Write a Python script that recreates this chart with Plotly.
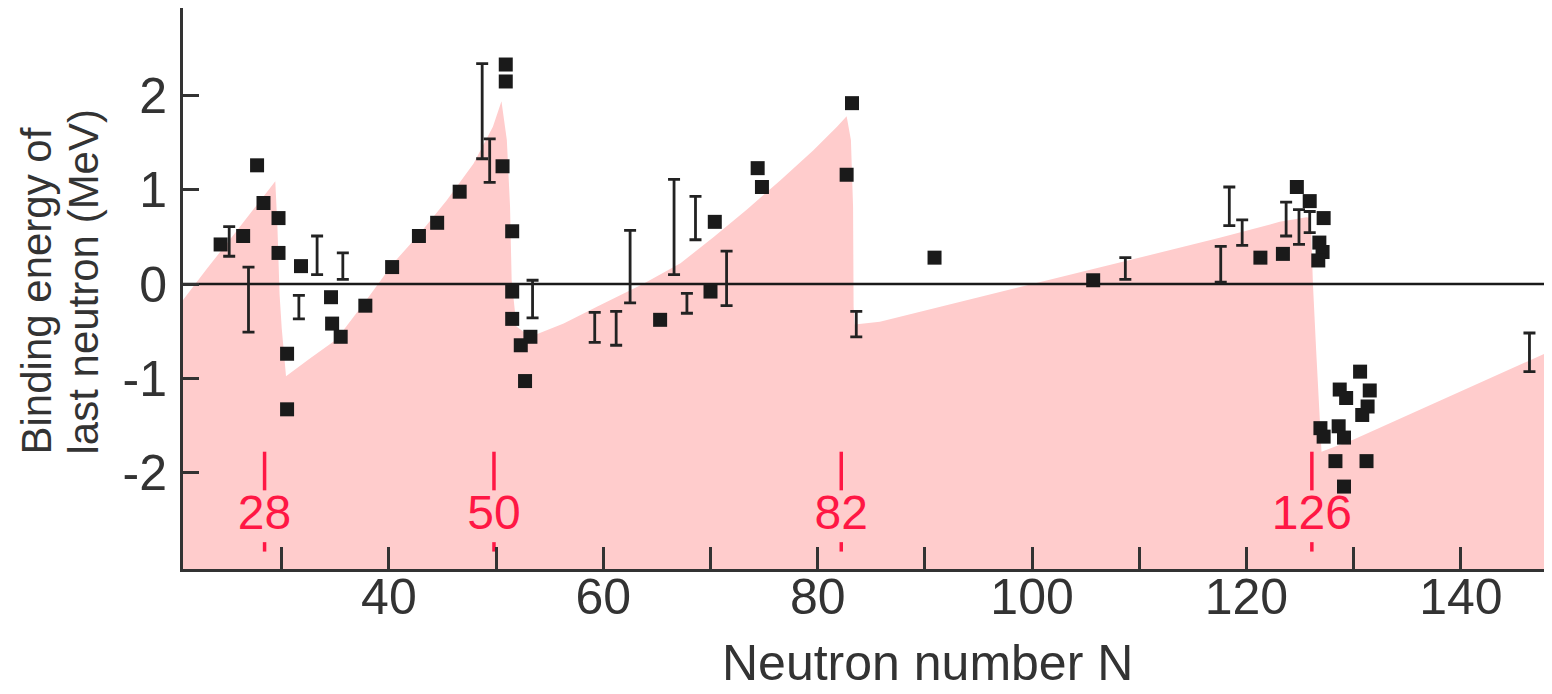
import plotly.graph_objects as go

# ---------------- data ----------------
# shell-model curve (pink area upper boundary)
curve_n = [20.79, 23.0, 25.5, 27.5, 29.0, 29.4, 29.6, 29.8, 30.0, 30.4, 32.5, 35.1, 37.9, 38.9,
           40.4, 42.9, 45.4, 47.9, 49.7, 50.5, 51.0, 51.3, 51.45, 51.9, 53.2, 56.3, 59.4, 63.7,
           67.2, 70.3, 73.4, 76.5, 79.6, 81.8, 82.7, 83.1, 83.3, 83.35, 83.45, 85.8, 100.0,
           117.5, 123.1, 125.6, 126.0, 126.2, 126.5, 126.8, 127.0, 130.0, 147.8]
curve_e = [-0.17, 0.16, 0.52, 0.81, 1.03, 1.09, 0.60, -0.11, -0.47, -0.98, -0.80, -0.59, -0.17, -0.01,
           0.22, 0.54, 0.89, 1.28, 1.67, 1.94, 1.53, 0.82, 0.04, -0.45, -0.56, -0.42, -0.24, 0.0,
           0.22, 0.50, 0.79, 1.10, 1.42, 1.67, 1.78, 1.53, 0.82, -0.24, -0.43, -0.40, 0.0,
           0.49, 0.66, 0.71, 0.70, 0.0, -0.70, -1.41, -1.78, -1.65, -0.74]

# measured points (squares)
pt_n = [24.3, 26.4, 27.7, 28.3, 29.7, 29.7, 30.5, 30.5, 31.8, 34.6, 34.7, 35.5, 37.8, 40.3,
        42.8, 44.5, 46.6, 50.9, 50.9, 50.6, 51.5, 51.5, 51.5, 53.2, 52.3, 52.7, 65.3, 70.0,
        70.4, 74.4, 74.8, 83.2, 82.7, 90.9, 105.7, 121.3, 123.4, 124.7, 125.9, 127.2, 126.8,
        127.1, 126.7, 130.6, 128.7, 129.3, 131.5, 131.3, 130.8, 126.9, 127.2, 128.6, 129.1,
        128.3, 131.2, 129.1]
pt_e = [0.42, 0.51, 1.26, 0.86, 0.70, 0.33, -0.74, -1.33, 0.19, -0.14, -0.42, -0.56, -0.23, 0.18,
        0.51, 0.65, 0.98, 2.33, 2.15, 1.25, 0.56, -0.08, -0.37, -0.56, -0.65, -1.03, -0.38, -0.08,
        0.66, 1.23, 1.03, 1.92, 1.16, 0.28, 0.04, 0.28, 0.32, 1.03, 0.88, 0.70, 0.44,
        0.34, 0.25, -0.93, -1.12, -1.21, -1.13, -1.30, -1.39, -1.53, -1.62, -1.51, -1.63,
        -1.88, -1.88, -2.15]

# measured ranges (error bars): N, low, high
err_n = [25.1, 26.9, 31.6, 33.3, 35.7, 48.7, 49.4, 53.4, 59.2, 61.2, 62.5, 66.6, 67.8, 68.6,
         71.5, 83.6, 108.7, 117.6, 118.4, 119.6, 123.7, 124.9, 125.9, 146.4]
err_lo = [0.295, -0.51, -0.37, 0.10, 0.05, 1.33, 1.08, -0.36, -0.62, -0.65, -0.20, 0.10, -0.31, 0.47,
          -0.23, -0.56, 0.05, 0.02, 0.62, 0.41, 0.51, 0.42, 0.545, -0.93]
err_hi = [0.61, 0.18, -0.12, 0.51, 0.33, 2.34, 1.54, 0.04, -0.30, -0.29, 0.57, 1.11, -0.10, 0.93,
          0.35, -0.29, 0.28, 0.40, 1.03, 0.68, 0.87, 0.79, 0.77, -0.52]

# magic numbers
magic_pos = [28.4, 49.8, 82.2, 126.1]
magic_labels = ["28", "50", "82", "126"]

# axis ticks
x_tick_vals = [30, 40, 50, 60, 70, 80, 90, 100, 110, 120, 130, 140]
x_tick_text = ["", "40", "", "60", "", "80", "", "100", "", "120", "", "140"]
y_tick_vals = [-2, -1, 0, 1, 2]
y_tick_text = ["-2", "-1", "0", "1", "2"]

X_RANGE = [20.79, 148.13]
Y_RANGE = [-3.025, 2.93]

# ---------------- figure ----------------
PINK = "rgb(255,204,204)"
RED = "rgb(255,23,68)"
INK = "#333333"
FONT = "Liberation Sans, Arial, Helvetica, sans-serif"

fig = go.Figure()

base_y = [Y_RANGE[0] - 0.2 for _ in curve_n]
fig.add_trace(go.Scatter(x=curve_n, y=base_y, mode="lines", line=dict(width=0),
                         hoverinfo="skip", showlegend=False))
fig.add_trace(go.Scatter(x=curve_n, y=curve_e, mode="lines", line=dict(width=0, color=PINK),
                         fill="tonexty", fillcolor=PINK, hoverinfo="skip", showlegend=False))

# zero line
fig.add_trace(go.Scatter(x=X_RANGE, y=[0, 0], mode="lines",
                         line=dict(color="#1a1a1a", width=2.5), hoverinfo="skip", showlegend=False))

# magic number markers
up_x, up_y, lo_x, lo_y = [], [], [], []
for m in magic_pos:
    up_x += [m, m, None]
    up_y += [-1.78, -2.19, None]
    lo_x += [m, m, None]
    lo_y += [-2.74, -2.84, None]
fig.add_trace(go.Scatter(x=up_x, y=up_y, mode="lines", line=dict(color=RED, width=3.5),
                         hoverinfo="skip", showlegend=False))
fig.add_trace(go.Scatter(x=lo_x, y=lo_y, mode="lines", line=dict(color=RED, width=3.5),
                         hoverinfo="skip", showlegend=False))
fig.add_trace(go.Scatter(x=magic_pos, y=[-2.47] * len(magic_pos), mode="text", text=magic_labels,
                         textposition="middle center",
                         textfont=dict(family=FONT, size=48, color=RED),
                         hoverinfo="skip", showlegend=False))

# error bars
err_mid = [(a + b) / 2 for a, b in zip(err_lo, err_hi)]
err_half = [(b - a) / 2 for a, b in zip(err_lo, err_hi)]
fig.add_trace(go.Scatter(x=err_n, y=err_mid, mode="markers",
                         marker=dict(size=1, color="rgba(0,0,0,0)"),
                         error_y=dict(type="data", symmetric=True, array=err_half,
                                      color="#222222", thickness=2.8, width=6),
                         hoverinfo="skip", showlegend=False))

# squares
fig.add_trace(go.Scatter(x=pt_n, y=pt_e, mode="markers",
                         marker=dict(symbol="square", size=14, color="#1a1a1a", line=dict(width=0)),
                         hoverinfo="skip", showlegend=False))

# page is offset by the default 8px body margin
OFF = 8
W, H = 1544, 686
L, R, T, B = 175, 4, 0, 125
pw = W - L - R
ph = H - T - B
PLOT_BOTTOM_PAGE = OFF + T + ph


def px_x(page_x):
    return (page_x - OFF - L) / pw


def px_y(page_y):
    return (PLOT_BOTTOM_PAGE - page_y) / ph


fig.update_layout(
    width=W, height=H,
    margin=dict(l=L, r=R, t=T, b=B),
    paper_bgcolor="white", plot_bgcolor="white",
    font=dict(family=FONT, color=INK),
    showlegend=False,
    xaxis=dict(range=X_RANGE, showline=True, linecolor=INK, linewidth=3,
               ticks="inside", ticklen=22, tickwidth=3, tickcolor=INK,
               tickmode="array", tickvals=x_tick_vals, ticktext=x_tick_text,
               tickfont=dict(family=FONT, size=50, color=INK),
               ticklabelstandoff=-18,
               showgrid=False, zeroline=False, layer="above traces"),
    yaxis=dict(range=Y_RANGE, showline=True, linecolor=INK, linewidth=3,
               ticks="inside", ticklen=16, tickwidth=3, tickcolor=INK,
               tickmode="array", tickvals=y_tick_vals, ticktext=y_tick_text,
               tickfont=dict(family=FONT, size=50, color=INK),
               ticklabelstandoff=3,
               showgrid=False, zeroline=False, layer="above traces"),
    annotations=[
        dict(text="Neutron number N", xref="paper", yref="paper",
             x=px_x(928), y=px_y(663), xanchor="center", yanchor="middle",
             showarrow=False, font=dict(family=FONT, size=50, color=INK)),
        dict(text="Binding energy of", xref="paper", yref="paper",
             x=px_x(36), y=px_y(457), xanchor="center", yanchor="bottom",
             textangle=-90, showarrow=False,
             font=dict(family=FONT, size=42, color=INK)),
        dict(text="last neutron (MeV)", xref="paper", yref="paper",
             x=px_x(83), y=px_y(457), xanchor="center", yanchor="bottom",
             textangle=-90, showarrow=False,
             font=dict(family=FONT, size=42, color=INK)),
    ],
)

fig.write_html("out.html")
